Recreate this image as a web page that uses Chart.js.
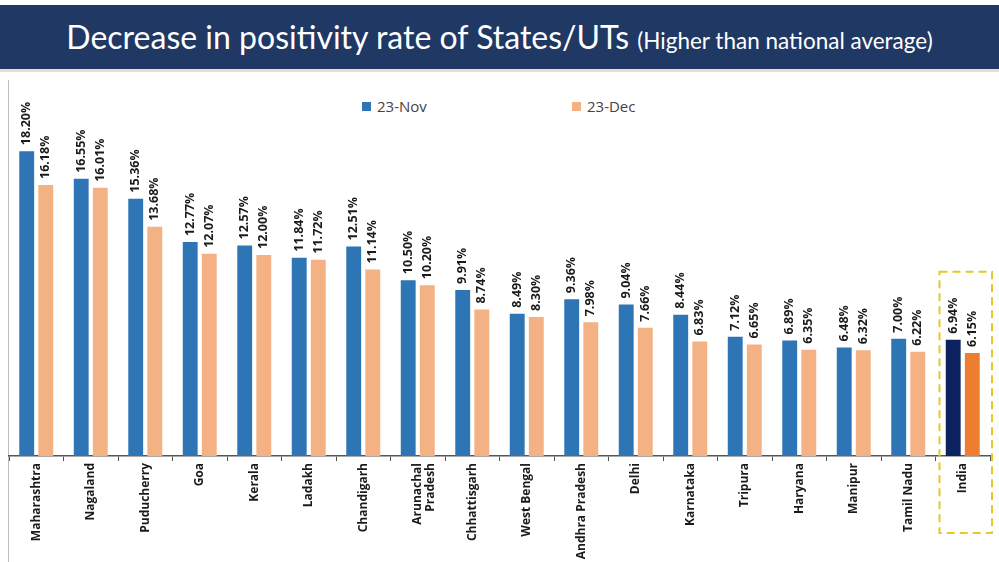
<!DOCTYPE html>
<html>
<head>
<meta charset="utf-8">
<script src="https://cdn.jsdelivr.net/npm/chart.js@4.4.1/dist/chart.umd.min.js"></script>
<style>
  html, body { margin: 0; padding: 0; background: #fff; }
  body { width: 999px; height: 562px; position: relative; overflow: hidden; font-family: Lato, "Open Sans", sans-serif; }
  #header { position: absolute; left: 0; top: 5px; width: 999px; height: 64px; background: #1F3864; color: #fff; text-align: center; line-height: 64px; white-space: nowrap; }
  #header .main { font-size: 32px; }
  #header .sub { font-size: 22.5px; margin-left: 4px; }
  #rule { position: absolute; left: 0; top: 69px; width: 999px; height: 3px; background: #E9DDCB; }
  #frame { position: absolute; left: 8px; top: 80px; width: 1px; height: 482px; background: #BDBDBD; }
  #legend { position: absolute; top: 96px; left: 0; width: 999px; font-family: "Open Sans", sans-serif; font-size: 15px; color: #444; }
  #legend span.item { position: absolute; white-space: nowrap; }
  #legend i { display: inline-block; width: 9px; height: 9px; margin-right: 6px; vertical-align: 1px; }
  #wrap { position: absolute; left: 0; top: 75px; width: 999px; height: 487px; }
</style>
</head>
<body>
<div id="header"><span class="main">Decrease in positivity rate of States/UTs</span> <span class="sub">(Higher than national average)</span></div>
<div id="rule"></div>
<div id="frame"></div>
<div id="legend">
  <span class="item" style="left:362px"><i style="background:#2E75B6"></i>23-Nov</span>
  <span class="item" style="left:572px"><i style="background:#F4B183"></i>23-Dec</span>
</div>
<div id="wrap"><canvas id="chart"></canvas></div>
<script>
// datos
const states = ['Maharashtra', 'Nagaland', 'Puducherry', 'Goa', 'Kerala', 'Ladakh', 'Chandigarh',
  ['Arunachal', 'Pradesh'], 'Chhattisgarh', 'West Bengal', 'Andhra Pradesh', 'Delhi', 'Karnataka',
  'Tripura', 'Haryana', 'Manipur', 'Tamil Nadu', 'India'];
const nov23 = [18.20, 16.55, 15.36, 12.77, 12.57, 11.84, 12.51, 10.50, 9.91, 8.49, 9.36, 9.04, 8.44, 7.12, 6.89, 6.48, 7.00, 6.94];
const dec23 = [16.18, 16.01, 13.68, 12.07, 12.00, 11.72, 11.14, 10.20, 8.74, 8.30, 7.98, 7.66, 6.83, 6.65, 6.35, 6.32, 6.22, 6.15];
const seriesNames = ['23-Nov', '23-Dec'];

const novColors = states.map(s => s === 'India' ? '#0B2160' : '#2E75B6');
const decColors = states.map(s => s === 'India' ? '#ED7D31' : '#F4B183');

// etiquetas de valor giradas encima de cada barra
const valueLabels = {
  id: 'valueLabels',
  afterDatasetsDraw(chart) {
    const ctx = chart.ctx;
    ctx.save();
    ctx.font = 'bold 12.5px "Open Sans", sans-serif';
    ctx.fillStyle = '#1a1a1a';
    ctx.textAlign = 'left';
    ctx.textBaseline = 'middle';
    chart.data.datasets.forEach((ds, di) => {
      chart.getDatasetMeta(di).data.forEach((bar, i) => {
        ctx.save();
        ctx.translate(bar.x, bar.y - 6);
        ctx.rotate(-Math.PI / 2);
        ctx.fillText(ds.data[i].toFixed(2) + '%', 0, 0);
        ctx.restore();
      });
    });
    ctx.restore();
  }
};

// recuadro discontinuo alrededor de India
const indiaBox = {
  id: 'indiaBox',
  afterDraw(chart) {
    const x = chart.scales.x, y = chart.scales.y;
    const idx = states.indexOf('India');
    const cx = x.getPixelForValue(idx);
    const half = (x.getPixelForValue(1) - x.getPixelForValue(0)) / 2;
    const ctx = chart.ctx;
    ctx.save();
    ctx.strokeStyle = '#E8C72A';
    ctx.lineWidth = 2;
    ctx.setLineDash([8, 5]);
    const top = y.getPixelForValue(11);
    const bottom = chart.chartArea.bottom + 77;
    ctx.strokeRect(cx - half + 4, top, half * 2 - 2, bottom - top);
    ctx.restore();
  }
};

new Chart(document.getElementById('chart'), {
  type: 'bar',
  data: {
    labels: states,
    datasets: [{
      label: seriesNames[0],
      data: nov23,
      backgroundColor: novColors,
      barPercentage: 0.78,
      categoryPercentage: 0.7
    }, {
      label: seriesNames[1],
      data: dec23,
      backgroundColor: decColors,
      barPercentage: 0.78,
      categoryPercentage: 0.7
    }]
  },
  options: {
    responsive: true,
    maintainAspectRatio: false,
    animation: false,
    layout: { padding: { left: 9, right: 9, top: 46, bottom: 0 } },
    plugins: {
      legend: { display: false },
      tooltip: { enabled: false }
    },
    scales: {
      x: {
        afterFit(scale) { scale.height = 106; },
        grid: { drawOnChartArea: false, drawTicks: true, tickLength: 5, color: '#555' },
        border: { color: '#555', width: 1.5 },
        ticks: {
          minRotation: 90,
          maxRotation: 90,
          autoSkip: false,
          padding: 2,
          color: '#1a1a1a',
          font: { family: '"Open Sans", sans-serif', size: 12, weight: 'bold', lineHeight: 1.1 }
        }
      },
      y: {
        display: false,
        min: 0,
        max: 20
      }
    }
  },
  plugins: [valueLabels, indiaBox]
});
</script>
</body>
</html>
